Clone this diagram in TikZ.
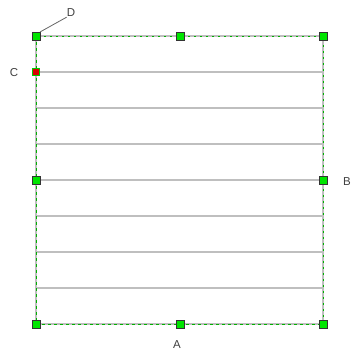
\documentclass[tikz,border=0pt]{standalone}
\usepackage{fontspec}
\setmainfont{Liberation Sans}
\begin{document}
\begin{tikzpicture}[x=1pt,y=-1pt,
  handle/.style={draw=black!80,fill=green!90!black,line width=0.8pt,minimum size=8pt,inner sep=0pt,outer sep=0pt},
  redhandle/.style={draw=green!80!black,fill=red!85!black,line width=1.2pt,minimum size=7pt,inner sep=0pt,outer sep=0pt},
  stripe/.style={draw=black!25,line width=1.2pt},
  lbl/.style={text=black!75,font=\fontsize{11.5}{13}\selectfont,inner sep=0pt}]
\useasboundingbox (0,0) rectangle (352,354);
\fill[white] (0,0) rectangle (352,354);
% stripes
\foreach \y in {72,108,144,180,216,252,288}
  \draw[stripe] (36,\y) -- (323,\y);
% border
\draw[black!25,line width=1.2pt] (36,36) rectangle (323,324);
\draw[green!70!black,line width=1pt,dash pattern=on 2.5pt off 3.5pt] (36,36) rectangle (323,324);
% handles
\node[handle] (tl) at (36,36) {};
\node[handle] (tm) at (180,36) {};
\node[handle] (tr) at (323,36) {};
\node[handle] (ml) at (36,180) {};
\node[handle] (mr) at (323,180) {};
\node[handle] (bl) at (36,324) {};
\node[handle] (bm) at (180,324) {};
\node[handle] (br) at (323,324) {};
\node[redhandle] (c) at (36,72) {};
% labels
\node[lbl] (D) at (71,13) {D};
\node[lbl] (C) at (14,73) {C};
\node[lbl] (B) at (347,182) {B};
\node[lbl] (A) at (177,345) {A};
\draw[black!60,line width=0.8pt] (tl.north east) -- (D.south west);
\end{tikzpicture}
\end{document}
